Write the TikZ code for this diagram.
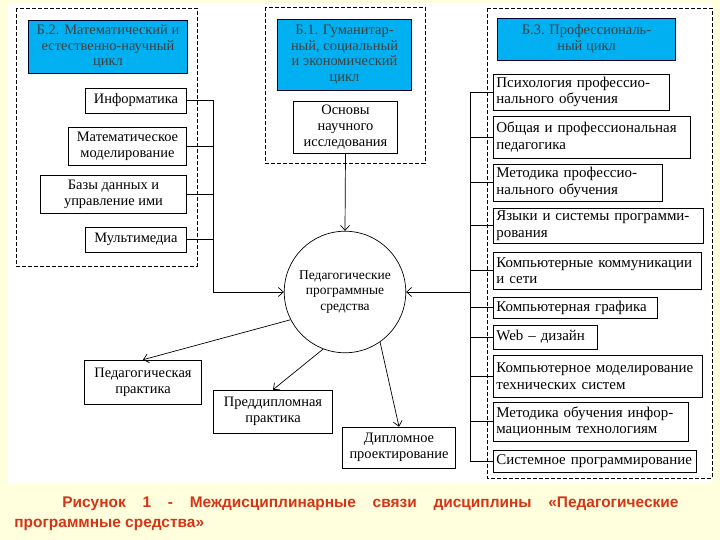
\documentclass[tikz,border=0pt]{standalone}
\usepackage{fontspec}
\setmainfont{Liberation Serif}
\newfontfamily\captionfont{Liberation Sans}
\usetikzlibrary{arrows.meta}
\definecolor{cyclecyan}{RGB}{0,176,240}
\definecolor{pageyellow}{RGB}{255,255,222}
\definecolor{captionred}{RGB}{214,52,22}

\begin{document}
\begin{tikzpicture}
        [x=1bp,y=-1bp,>={Straight Barb[length=5bp,width=9bp]},line width=.7bp,
         every node/.style={draw,rectangle,inner sep=2bp,align=center,
                            font=\fontsize{14.5}{16}\selectfont}]
        \useasboundingbox (0,0) rectangle (720,540);
        \fill[pageyellow] (0,0) rectangle (720,540);
        \fill[white] (8,3) rectangle (712,484);
        \tikzset{CycleStyle/.style = {fill=cyclecyan, draw=black!80!blue, text=black!75},
                 ItemStyle/.style 2 args = {anchor=west, align=left, inner xsep=3bp,
                                            font=\fontsize{15}{16.5}\selectfont,
                                            text width=#1-6bp, minimum height=#2},
                 GroupStyle/.style = {dashed, dash pattern=on 4bp off 2bp}}
        % frames of the three cycles
        \draw[GroupStyle] (16,8) rectangle (197,266);
        \draw[GroupStyle] (265,7) rectangle (425,163);
        \draw[GroupStyle] (487,8) rectangle (712,478);
        % B.2
        \node[CycleStyle, minimum width=160, minimum height=53] (MatCycle) at (108,46.5)
            {Б.2. Математический и\\естественно-научный\\цикл};
        \node[minimum width=102, minimum height=25] (Informatika) at (136,100.5) {Информатика};
        \node[minimum width=119, minimum height=38] (MatModel) at (127.5,146)
            {Математическое\\моделирование};
        \node[minimum width=147, minimum height=38] (Bazy) at (113.5,194)
            {Базы данных и\\управление ими};
        \node[minimum width=102, minimum height=25] (Multimedia) at (136,239.5) {Мультимедиа};
        % B.1
        \node[CycleStyle, minimum width=135, minimum height=71, inner ysep=1bp,
              font=\fontsize{14.5}{15.5}\selectfont] (GumCycle) at (344.5,54.5)
            {Б.1. Гуманитар-\\ный, социальный\\и экономический\\цикл};
        \node[minimum width=105, minimum height=52] (Osnovy) at (345.5,127)
            {Основы\\научного\\исследования};
        % B.3
        \node[CycleStyle, minimum width=179, minimum height=42] (ProfCycle) at (586.5,39)
            {Б.3. Профессиональ-\\ный цикл};
        \node[ItemStyle={177}{36}] (Psihologiya) at (493,92)
            {Психология профессио-\\нального обучения};
        \node[ItemStyle={198}{42}] (Pedagogika) at (493,137)
            {Общая и профессиональная\\педагогика};
        \node[ItemStyle={170}{37}] (Metodika) at (493,182.5)
            {Методика профессио-\\нального обучения};
        \node[ItemStyle={211}{35}] (Yazyki) at (493,225.5)
            {Языки и системы программи-\\рования};
        \node[ItemStyle={209}{37}] (Kommunikacii) at (493,270.5)
            {Компьютерные коммуникации\\и сети};
        \node[ItemStyle={165}{21}] (Grafika) at (493,307.5) {Компьютерная графика};
        \node[ItemStyle={104}{24}] (Web) at (493,337) {Web -- дизайн};
        \node[ItemStyle={210}{42}] (Modelirovanie) at (493,376)
            {Компьютерное моделирование\\технических систем};
        \node[ItemStyle={196}{39}] (MetodikaIT) at (493,421.5)
            {Методика обучения инфор-\\мационным технологиям};
        \node[ItemStyle={204}{22}] (Sistemnoe) at (493,461) {Системное программирование};
        % centre
        \node[circle, minimum size=122, font=\fontsize{13.5}{15.5}\selectfont] (Sredstva) at (345,292)
            {Педагогические\\программные\\средства};
        % practice
        \node[minimum width=118, minimum height=44] (Praktika) at (143,382)
            {Педагогическая\\практика};
        \node[minimum width=120, minimum height=43] (Preddiplom) at (273,411.5)
            {Преддипломная\\практика};
        \node[minimum width=114, minimum height=41] (Diplom) at (399,447.5)
            {Дипломное\\проектирование};
        % connectors
        \coordinate (LeftBus) at (213,292);
        \coordinate (RightBus) at (470,292);
        \foreach \from in {Informatika,MatModel,Bazy,Multimedia}
            \draw (\from.east) -- (\from.east -| LeftBus);
        \draw (Informatika.east -| LeftBus) -- (LeftBus);
        \draw[->] (LeftBus) -- (Sredstva.west);
        \foreach \from in {Psihologiya,Pedagogika,Metodika,Yazyki,Kommunikacii,Grafika,Web,Modelirovanie,MetodikaIT,Sistemnoe}
            \draw (\from.west) -- (\from.west -| RightBus);
        \draw (Psihologiya.west -| RightBus) -- (Sistemnoe.west -| RightBus);
        \draw[->] (RightBus) -- (Sredstva.east);
        \draw[->] (Osnovy.south) -- (Sredstva.north);
        \foreach \from/\to in {207/Praktika,249/Preddiplom,305/Diplom}
            \draw[->] (Sredstva.\from) -- (\to.north);
        % caption
        \tikzset{CaptionStyle/.style = {draw=none, inner sep=0pt, anchor=west,
                                        text=captionred,
                                        font=\captionfont\bfseries\fontsize{15.5}{18}\selectfont}}
        \node[CaptionStyle] (CaptionTop) at (62,504)
            {\hbox to 616bp{Рисунок\hfil 1\hfil -\hfil Междисциплинарные\hfil связи\hfil
             дисциплины\hfil «Педагогические}};
        \node[CaptionStyle] (CaptionBottom) at (14,525) {программные средства»};
\end{tikzpicture}
\end{document}
